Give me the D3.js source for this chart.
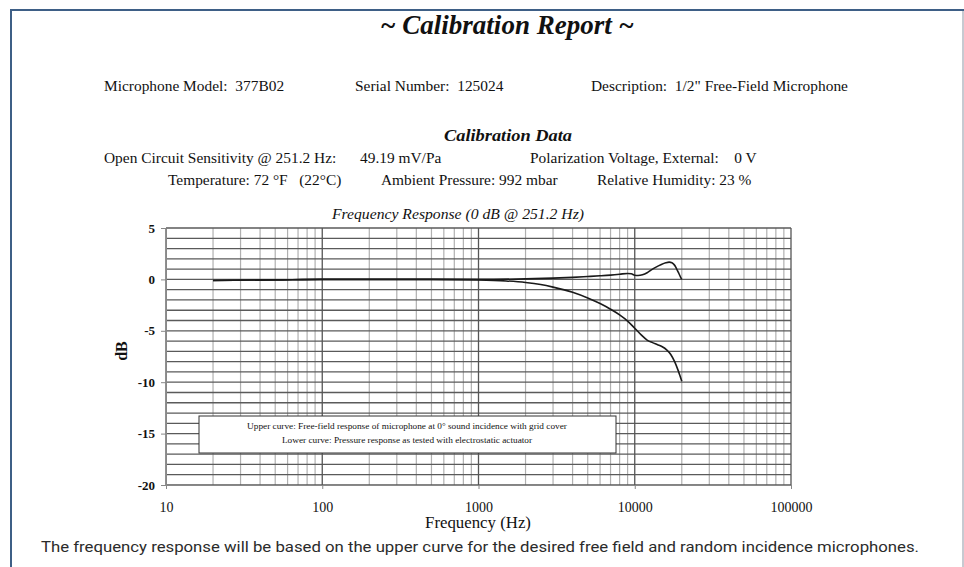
<!DOCTYPE html>
<html>
<head>
<meta charset="utf-8">
<script src="https://cdn.jsdelivr.net/npm/d3@7"></script>
<style>
  html, body { margin: 0; padding: 0; background: #fff; }
  svg { display: block; }
  .serif { font-family: "Liberation Serif", "Times New Roman", serif; fill: #111; white-space: pre; }
</style>
</head>
<body>
<div id="chart"></div>
<script>
// upper curve: free-field response
var upperFreq = [20, 50, 100, 200, 500, 1000, 2000, 3000, 4000, 5000, 6000, 7000, 8000, 9000, 9500, 10000, 10500, 11200, 12000, 12700, 13500, 14800, 15800, 16600, 17300, 17800, 18300, 18700, 19200, 19750, 20000];
var upperDb = [-0.1, -0.05, 0, 0, 0, 0, 0.05, 0.12, 0.2, 0.28, 0.35, 0.42, 0.5, 0.58, 0.55, 0.4, 0.38, 0.45, 0.65, 0.9, 1.15, 1.46, 1.62, 1.68, 1.62, 1.46, 1.2, 0.9, 0.55, 0.15, 0.0];
// lower curve: pressure response
var lowerFreq = [20, 50, 100, 200, 500, 1000, 1500, 2000, 2500, 3000, 4000, 5000, 6000, 7000, 8000, 9000, 10000, 11000, 12000, 13000, 14000, 15000, 16000, 17000, 18000, 19000, 19500, 20000];
var lowerDb = [-0.1, -0.05, 0, 0, 0, -0.05, -0.15, -0.3, -0.5, -0.75, -1.25, -1.8, -2.35, -2.9, -3.45, -4.05, -4.75, -5.4, -5.9, -6.15, -6.35, -6.55, -6.85, -7.3, -8.0, -8.9, -9.4, -9.9];

var xTicks = [10, 100, 1000, 10000, 100000];
var yTicks = [5, 0, -5, -10, -15, -20];

var legendLines = [
  "Upper curve: Free-field response of microphone at 0\u00b0 sound incidence with grid cover",
  "Lower curve: Pressure response as tested with electrostatic actuator"
];

var W = 964, H = 567;
var svg = d3.select("#chart").append("svg").attr("width", W).attr("height", H);

// page frame
svg.append("line").attr("x1", 10).attr("x2", W).attr("y1", 10).attr("y2", 10)
  .attr("stroke", "#3e5f86").attr("stroke-width", 2);
svg.append("line").attr("x1", 11).attr("x2", 11).attr("y1", 9).attr("y2", H)
  .attr("stroke", "#3e5f86").attr("stroke-width", 2);
svg.append("line").attr("x1", 963).attr("x2", 963).attr("y1", 11).attr("y2", H)
  .attr("stroke", "#b4b8c2").attr("stroke-width", 1.5);

// the scanned report uses a wide-set Times, so stretch text horizontally
function stretch(sel, f) {
  sel.each(function () {
    var len = this.getComputedTextLength();
    d3.select(this).attr("textLength", len * f).attr("lengthAdjust", "spacingAndGlyphs");
  });
  return sel;
}

function txt(x, y, s, size, opts) {
  opts = opts || {};
  var t = svg.append("text").attr("class", "serif")
    .attr("x", x).attr("y", y)
    .attr("font-size", size)
    .attr("font-weight", opts.bold ? "bold" : null)
    .attr("font-style", opts.italic ? "italic" : null)
    .attr("text-anchor", opts.anchor || "start")
    .text(s);
  if (opts.f) stretch(t, opts.f);
  return t;
}
txt(507, 34, "~ Calibration Report ~", 27, {bold: true, italic: true, anchor: "middle"});
txt(104, 91, "Microphone Model:  377B02", 14, {f: 1.1});
txt(355, 91, "Serial Number:  125024", 14, {f: 1.1});
txt(591, 91, "Description:  1/2\" Free-Field Microphone", 14, {f: 1.1});
txt(508, 141, "Calibration Data", 17, {bold: true, italic: true, anchor: "middle", f: 1.08});
txt(104, 163, "Open Circuit Sensitivity @ 251.2 Hz:", 14, {f: 1.1});
txt(360, 163, "49.19 mV/Pa", 14, {f: 1.1});
txt(530, 163, "Polarization Voltage, External:    0 V", 14, {f: 1.1});
txt(168, 185, "Temperature: 72 \u00b0F   (22\u00b0C)", 14, {f: 1.1});
txt(381, 185, "Ambient Pressure: 992 mbar", 14, {f: 1.1});
txt(597, 185, "Relative Humidity: 23 %", 14, {f: 1.1});
txt(458, 219, "Frequency Response (0 dB @ 251.2 Hz)", 14, {italic: true, anchor: "middle", f: 1.12});

// scales
var x = d3.scaleLog().domain([10, 100000]).range([166, 791]);
var y = d3.scaleLinear().domain([-20, 5]).range([485, 228]);

// grid
var minor = [];
[10, 100, 1000, 10000].forEach(function (d) {
  for (var k = 2; k <= 9; k++) minor.push(d * k);
});
var g = svg.append("g");
g.selectAll(".vminor").data(minor).enter().append("line")
  .attr("x1", function (d) { return x(d); }).attr("x2", function (d) { return x(d); })
  .attr("y1", y(5)).attr("y2", y(-20))
  .attr("stroke", "#b0b0b0").attr("stroke-width", 1.2);
g.selectAll(".hgrid").data(d3.range(-20, 6)).enter().append("line")
  .attr("x1", x(10)).attr("x2", x(100000))
  .attr("y1", function (d) { return y(d); }).attr("y2", function (d) { return y(d); })
  .attr("stroke", "#5a5a5a").attr("stroke-width", 1.3);
g.selectAll(".vmajor").data(xTicks).enter().append("line")
  .attr("x1", function (d) { return x(d); }).attr("x2", function (d) { return x(d); })
  .attr("y1", y(5)).attr("y2", y(-20))
  .attr("stroke", "#555").attr("stroke-width", 1.3);

// axes
var yAxis = d3.axisLeft(y).tickValues(yTicks).tickFormat(function (d) { return String(d); })
  .tickSize(5).tickPadding(6);
var yg = svg.append("g").attr("transform", "translate(166,0)").call(yAxis);
yg.select(".domain").attr("stroke", "#888");
yg.selectAll(".tick line").attr("stroke", "#888");
yg.selectAll("text").attr("class", "serif").attr("font-size", 13).attr("font-weight", "bold");

var xAxis = d3.axisBottom(x).tickValues(xTicks).tickFormat(function (d) { return String(d); })
  .tickSize(4).tickPadding(13);
var xg = svg.append("g").attr("transform", "translate(0,485)").call(xAxis);
xg.select(".domain").attr("stroke", "#888");
xg.selectAll(".tick line").attr("stroke", "#888");
xg.selectAll("text").attr("class", "serif").attr("font-size", 14);

txt(478, 528, "Frequency (Hz)", 16, {anchor: "middle", f: 1.05});
txt(0, 0, "dB", 16, {bold: true, anchor: "middle"})
  .attr("transform", "translate(127,351) rotate(-90)");

// curves
var line = d3.line()
  .x(function (d) { return x(d[0]); })
  .y(function (d) { return y(d[1]); })
  .curve(d3.curveMonotoneX);
var curves = [d3.zip(upperFreq, upperDb), d3.zip(lowerFreq, lowerDb)];
svg.selectAll(".curve").data(curves).enter().append("path")
  .attr("d", line)
  .attr("fill", "none")
  .attr("stroke", "#1a1a1a")
  .attr("stroke-width", 1.6);

// legend box
svg.append("rect").attr("x", 199).attr("y", 416).attr("width", 417).attr("height", 37)
  .attr("fill", "#fff").attr("stroke", "#333").attr("stroke-width", 1);
stretch(svg.selectAll(".leg").data(legendLines).enter().append("text")
  .attr("class", "serif")
  .attr("x", 407).attr("y", function (d, i) { return 429 + i * 14; })
  .attr("text-anchor", "middle").attr("font-size", 9)
  .text(function (d) { return d; }), 1.03);

// caption
svg.append("text")
  .attr("x", 41).attr("y", 552)
  .attr("font-family", "Roboto, 'Liberation Sans', sans-serif")
  .attr("font-size", 15).attr("fill", "#2b2b2b")
  .attr("textLength", 878).attr("lengthAdjust", "spacingAndGlyphs")
  .text("The frequency response will be based on the upper curve for the desired free field and random incidence microphones.");
</script>
</body>
</html>
